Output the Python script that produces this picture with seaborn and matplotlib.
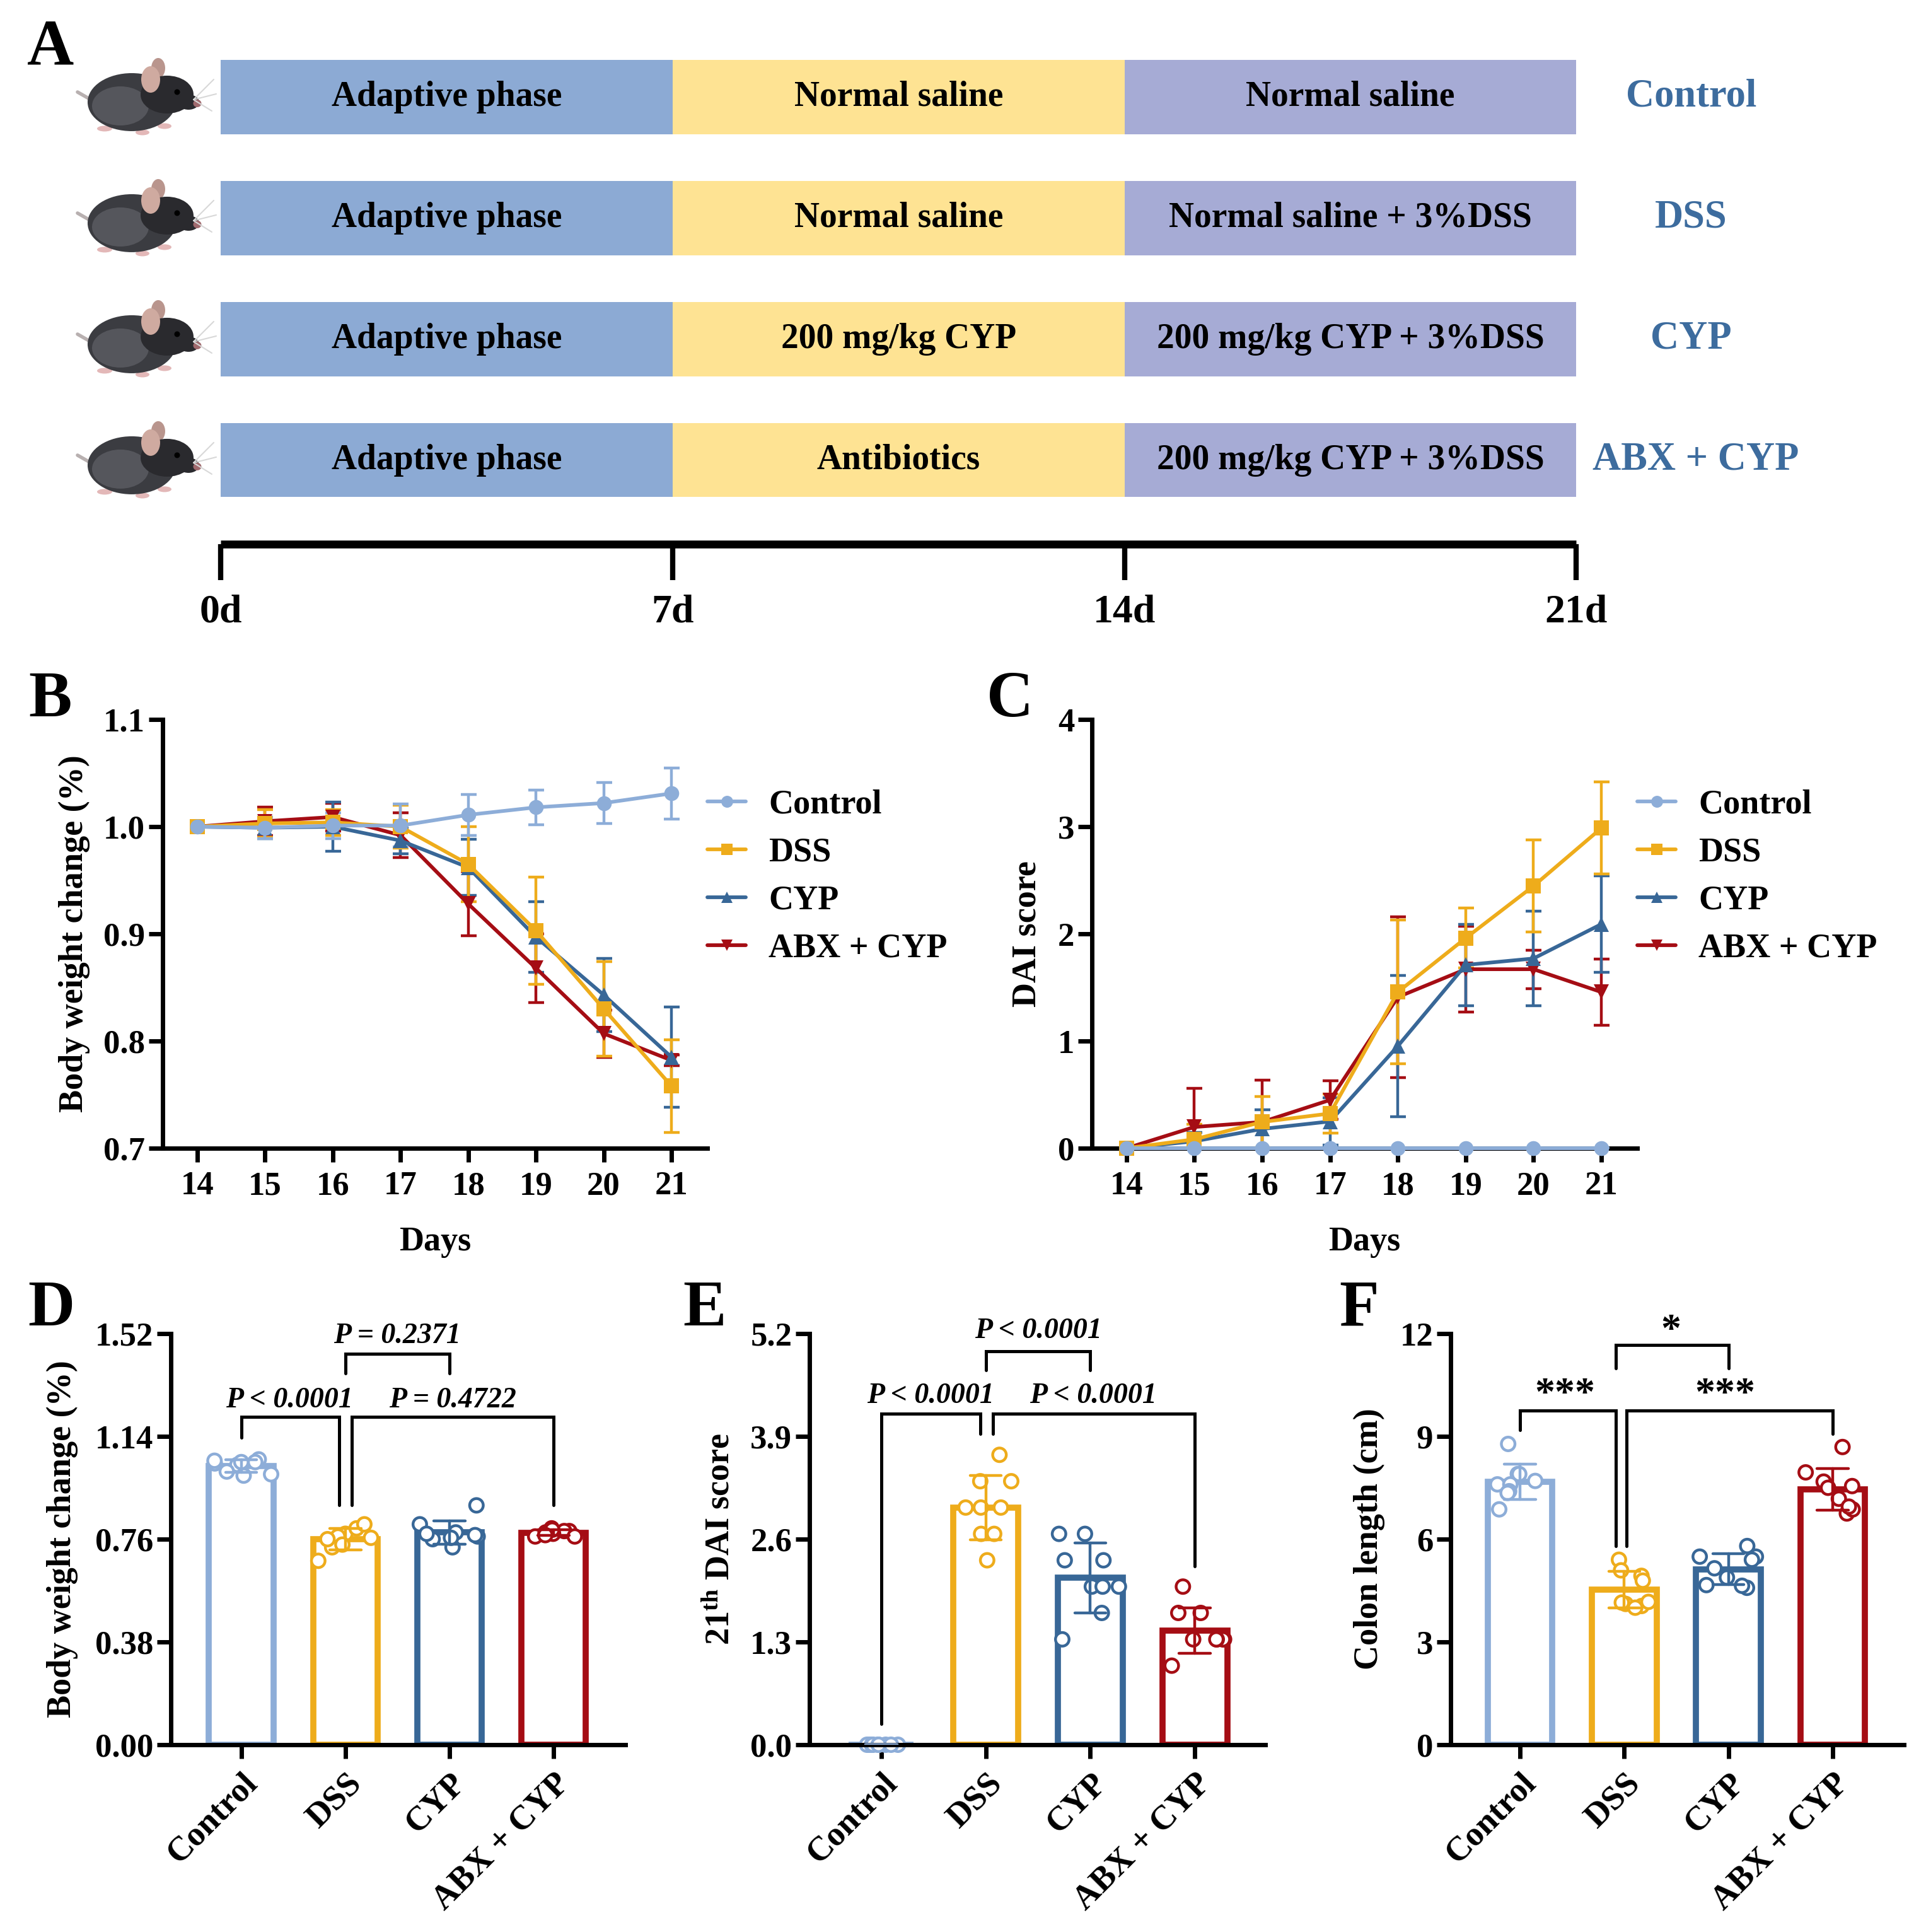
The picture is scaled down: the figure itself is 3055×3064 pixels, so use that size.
import numpy as np
import pandas as pd
import matplotlib
matplotlib.use('Agg')
import matplotlib.pyplot as plt
from matplotlib.patches import Ellipse
import seaborn as sns

# ---------------- data ----------------
groups = ['Control', 'DSS', 'CYP', 'ABX + CYP']
group_colors = ['#8DADD8', '#EEAC1B', '#386797', '#A50D14']
line_markers = ['o', 's', '^', 'v']

# panel A: experimental design
phase_bounds = [0, 7, 14, 21]
phase_colors = ['#8CAAD4', '#FEE393', '#A6ABD5']
phase1_text = ['Adaptive phase', 'Adaptive phase', 'Adaptive phase', 'Adaptive phase']
phase2_text = ['Normal saline', 'Normal saline', '200 mg/kg CYP', 'Antibiotics']
phase3_text = ['Normal saline', 'Normal saline + 3%DSS',
               '200 mg/kg CYP + 3%DSS', '200 mg/kg CYP + 3%DSS']
timeline_days = [0, 7, 14, 21]
timeline_labels = ['0d', '7d', '14d', '21d']

# panel B / C: days 14-21, mean and SD
days = [14, 15, 16, 17, 18, 19, 20, 21]

bw_mean = {
    'Control':   [1.000, 0.999, 1.001, 1.001, 1.011, 1.018, 1.022, 1.031],
    'DSS':       [1.000, 1.003, 1.004, 1.000, 0.965, 0.903, 0.830, 0.758],
    'CYP':       [1.000, 0.999, 1.000, 0.987, 0.962, 0.897, 0.843, 0.785],
    'ABX + CYP': [1.000, 1.005, 1.009, 0.992, 0.928, 0.868, 0.807, 0.782],
}
bw_sd = {
    'Control':   [0, 0.010, 0.012, 0.020, 0.019, 0.016, 0.019, 0.024],
    'DSS':       [0, 0.013, 0.012, 0.020, 0.035, 0.050, 0.044, 0.043],
    'CYP':       [0, 0.010, 0.023, 0.012, 0.026, 0.033, 0.034, 0.047],
    'ABX + CYP': [0, 0.013, 0.013, 0.021, 0.030, 0.032, 0.022, 0.005],
}
dai_mean = {
    'Control':   [0, 0, 0, 0, 0, 0, 0, 0],
    'DSS':       [0, 0.083, 0.245, 0.324, 1.457, 1.960, 2.446, 2.986],
    'CYP':       [0, 0.065, 0.180, 0.250, 0.953, 1.710, 1.770, 2.090],
    'ABX + CYP': [0, 0.198, 0.245, 0.450, 1.410, 1.670, 1.670, 1.457],
}
dai_sd = {
    'Control':   [0, 0, 0, 0, 0, 0, 0, 0],
    'DSS':       [0, 0.14, 0.24, 0.18, 0.67, 0.28, 0.43, 0.43],
    'CYP':       [0, 0.08, 0.18, 0.22, 0.66, 0.38, 0.44, 0.45],
    'ABX + CYP': [0, 0.36, 0.39, 0.18, 0.75, 0.40, 0.18, 0.31],
}

# panel D: body weight change on day 21 (individual mice)
bw21_control = [1.040, 1.055, 1.035, 1.045, 1.000, 0.995, 1.045, 1.050, 1.010]
bw21_dss = [0.780, 0.800, 0.815, 0.770, 0.680, 0.730, 0.765, 0.760, 0.740]
bw21_cyp = [0.885, 0.815, 0.785, 0.770, 0.760, 0.730, 0.775, 0.780, 0.765]
bw21_abx = [0.790, 0.790, 0.800, 0.770, 0.780, 0.785, 0.795, 0.775, 0.770]

# panel E: DAI score on day 21
dai21_control = [0, 0, 0, 0, 0, 0, 0, 0, 0]
dai21_dss = [3.667, 3.333, 3.333, 3.0, 3.0, 3.0, 2.667, 2.667, 2.333]
dai21_cyp = [2.667, 2.667, 2.333, 2.333, 2.0, 2.0, 2.0, 1.667, 1.333]
dai21_abx = [2.0, 1.667, 1.667, 1.333, 1.333, 1.333, 1.333, 1.333, 1.0]

# panel F: colon length (cm)
colon_control = [8.78, 7.90, 7.70, 7.90, 7.60, 7.60, 7.40, 7.35, 6.87]
colon_dss = [5.40, 5.09, 4.93, 4.79, 4.11, 4.15, 4.05, 4.17, 4.00]
colon_cyp = [5.80, 5.49, 5.49, 5.40, 5.15, 4.88, 4.58, 4.64, 4.66]
colon_abx = [8.69, 7.95, 7.68, 7.55, 7.50, 7.18, 6.75, 6.87, 6.95]

# ---------------- style ----------------
sns.set_theme(style='ticks', rc={'axes.edgecolor': 'black', 'xtick.color': 'black',
                                  'ytick.color': 'black', 'text.color': 'black',
                                  'axes.labelcolor': 'black'})
plt.rcParams['font.family'] = ['Liberation Serif', 'DejaVu Serif']
plt.rcParams['font.weight'] = 'bold'
plt.rcParams['axes.labelweight'] = 'bold'
plt.rcParams['mathtext.fontset'] = 'custom'
plt.rcParams['mathtext.rm'] = 'Liberation Serif:bold'
plt.rcParams['mathtext.bf'] = 'Liberation Serif:bold'
plt.rcParams['mathtext.it'] = 'Liberation Serif:bold:italic'

W, H = 3055, 3064
fig = plt.figure(figsize=(W / 100, H / 100), dpi=100)


def px_axes(left, top, right, bottom):
    return fig.add_axes([left / W, 1 - bottom / H, (right - left) / W, (bottom - top) / H])


def style_axes(ax):
    for s in ['top', 'right']:
        ax.spines[s].set_visible(False)
    for s in ['left', 'bottom']:
        ax.spines[s].set_linewidth(5)
    ax.tick_params(axis='both', direction='out', length=16, width=5, labelsize=38)
    ax.tick_params(axis='y', pad=4)
    ax.tick_params(axis='x', pad=10)


# ---------------- panel A ----------------
PX_DAY = 102.4
X0 = 350
axA = px_axes(0, 0, W, 1040)
axA.set_xlim(-X0 / PX_DAY, (W - X0) / PX_DAY)
axA.set_ylim(4.615, -0.802)
axA.axis('off')

rows = np.arange(len(groups))
phase_texts = [phase1_text, phase2_text, phase3_text]
for j in range(3):
    axA.barh(rows, phase_bounds[j + 1] - phase_bounds[j], left=phase_bounds[j],
             height=0.61, color=phase_colors[j], edgecolor='none')
    mid = (phase_bounds[j] + phase_bounds[j + 1]) / 2
    for r in rows:
        axA.text(mid, r, phase_texts[j][r], ha='center', va='center', fontsize=40,
                 fontweight='bold')
for r, g in zip(rows, groups):
    axA.text(22.85 if r == 3 else 22.78, r, g, ha='center', va='center', fontsize=45,
             fontweight='bold', color='#3D6C9E')

# timeline
axA.plot([timeline_days[0], timeline_days[-1]], [3.693, 3.693], color='black', lw=9,
         solid_capstyle='butt')
for d, lab in zip(timeline_days, timeline_labels):
    axA.plot([d, d], [3.693, 3.99], color='black', lw=6, solid_capstyle='butt')
    axA.text(d, 4.26, lab, ha='center', va='center', fontsize=46, fontweight='bold')


def draw_mouse(ax, cx, cy):
    sx, sy = 1 / PX_DAY, 1 / 192

    def ell(dx, dy, w, h, c, z=3):
        ax.add_patch(Ellipse((cx + dx * sx, cy + dy * sy), w * sx, h * sy,
                             facecolor=c, edgecolor='none', zorder=z))

    ax.plot([cx - 70 * sx, cx - 98 * sx], [cy + 8 * sy, cy - 8 * sy], color='#b8b0b0',
            lw=4, zorder=2, solid_capstyle='round')
    ell(-12, 8, 140, 92, '#3b3c41')
    ell(-30, 14, 90, 62, '#55565c')
    ell(44, -4, 84, 60, '#2a2a2e', 4)
    ell(78, 8, 34, 24, '#2a2a2e', 4)
    ell(92, 10, 13, 12, '#a06a6e', 5)
    ell(30, -46, 22, 32, '#b9958d', 3)
    ell(18, -28, 30, 42, '#cfaaa0', 5)
    ell(60, -8, 9, 9, 'black', 5)
    ell(-55, 50, 24, 9, '#e3b8b8', 2)
    ell(40, 46, 22, 9, '#e3b8b8', 2)
    ell(5, 56, 22, 9, '#e3b8b8', 2)
    for ex, ey in [(118, -28), (122, -5), (115, 22)]:
        ax.plot([cx + 86 * sx, cx + ex * sx], [cy + 4 * sy, cy + ey * sy],
                color='#d8d8d8', lw=1.5, zorder=6)


for r in rows:
    draw_mouse(axA, -1.26, r)

# ---------------- panels B and C ----------------
axB = px_axes(258, 1141, 1122, 1821)
axC = px_axes(1732, 1141, 2597, 1821)

for ax, means, sds, ylim, yticks, ylab, labx in [
        (axB, bw_mean, bw_sd, (0.7, 1.1), [0.7, 0.8, 0.9, 1.0, 1.1],
         'Body weight change (%)', -0.133),
        (axC, dai_mean, dai_sd, (0, 4), [0, 1, 2, 3, 4], 'DAI score', -0.090)]:
    for i in reversed(range(len(groups))):
        g = groups[i]
        ax.errorbar(days, means[g], yerr=sds[g], fmt='none', ecolor=group_colors[i],
                    elinewidth=3.2, capsize=9, capthick=3.2, zorder=2.8)
        sns.lineplot(x=days, y=means[g], color=group_colors[i], marker=line_markers[i],
                     markersize=17, markeredgewidth=0, linewidth=4.2, label=g, ax=ax,
                     zorder=3, clip_on=False)
    style_axes(ax)
    ax.set_xlim(13.49, 21.53)
    ax.set_ylim(*ylim)
    ax.set_xticks(days)
    ax.set_yticks(yticks)
    if ylim[1] < 2:
        ax.set_yticklabels([f'{t:.1f}' for t in yticks])
    ax.set_xlabel('Days', fontsize=39, fontweight='bold')
    ax.set_ylabel(ylab, fontsize=39, fontweight='bold')
    ax.xaxis.set_label_coords(0.5, -0.182)
    ax.yaxis.set_label_coords(labx, 0.5)
    handles, labels = ax.get_legend_handles_labels()
    order = [labels.index(g) for g in groups]
    ax.legend([handles[k] for k in order], [labels[k] for k in order],
              loc='upper left', bbox_to_anchor=(1.0, 0.837), frameon=False,
              prop={'size': 39, 'weight': 'bold'}, handlelength=1.13, markerscale=0.8,
              handletextpad=0.66, labelspacing=0.48, borderaxespad=0, borderpad=0)

# ---------------- panels D, E, F ----------------
axD = px_axes(271, 2115, 992, 2767)
axE = px_axes(1284, 2115, 2007, 2767)
axF = px_axes(2301, 2115, 3020, 2767)

bar_sets = [
    (axD, [bw21_control, bw21_dss, bw21_cyp, bw21_abx], (0, 1.52),
     [0, 0.38, 0.76, 1.14, 1.52], '{:.2f}', 'Body weight change (%)', -0.204,
     (-0.676, 3.689)),
    (axE, [dai21_control, dai21_dss, dai21_cyp, dai21_abx], (0, 5.2),
     [0, 1.3, 2.6, 3.9, 5.2], '{:.1f}', r'21$^{\mathbf{th}}$ DAI score', -0.160,
     (-0.685, 3.673)),
    (axF, [colon_control, colon_dss, colon_cyp, colon_abx], (0, 12),
     [0, 3, 6, 9, 12], '{:.0f}', 'Colon length (cm)', -0.144, (-0.667, 3.685)),
]

np.random.seed(7)
for ax, vals, ylim, yticks, fmt, ylab, labx, xlim in bar_sets:
    df = pd.DataFrame({'group': np.repeat(groups, [len(v) for v in vals]),
                       'value': np.concatenate(vals)})
    sns.barplot(data=df, x='group', y='value', hue='group', order=groups,
                hue_order=groups, palette=group_colors, fill=False, width=0.62,
                linewidth=7, errorbar='sd', capsize=0.3,
                err_kws={'linewidth': 3.2, 'zorder': 3.2}, legend=False, ax=ax)
    n_before = len(ax.collections)
    sns.stripplot(data=df, x='group', y='value', hue='group', order=groups,
                  hue_order=groups, palette=group_colors, jitter=0.3, size=15.5,
                  legend=False, ax=ax)
    for coll in ax.collections[n_before:]:
        fc = coll.get_facecolor()
        coll.set_edgecolor(fc)
        coll.set_facecolor('white')
        coll.set_linewidth(3.2)
        coll.set_clip_on(False)
        coll.set_zorder(2.4)
    style_axes(ax)
    ax.set_xlim(*xlim)
    ax.set_ylim(*ylim)
    ax.set_yticks(yticks)
    ax.set_yticklabels([fmt.format(t) for t in yticks])
    ax.set_xticks(range(4))
    ax.set_xticklabels(groups, rotation=45, ha='right', va='top', rotation_mode='anchor',
                       fontsize=39)
    ax.set_xlabel('')
    ax.set_ylabel(ylab, fontsize=39, fontweight='bold')
    ax.yaxis.set_label_coords(labx, 0.5)


def bracket(ax, x1, x2, ytop, y1, y2):
    ax.plot([x1, x1, x2, x2], [y1, ytop, ytop, y2], color='black', lw=3.6,
            solid_joinstyle='miter', clip_on=False, zorder=5)


def ptext(ax, x, y, s, size=33, style='italic'):
    ax.text(x, y, s, ha='center', va='center', fontsize=size, fontweight='bold',
            fontstyle=style, clip_on=False)


# D
bracket(axD, 0, 0.94, 1.212, 1.135, 0.886)
bracket(axD, 1.06, 3, 1.212, 0.886, 0.886)
bracket(axD, 1, 2, 1.445, 1.372, 1.372)
ptext(axD, 0.46, 1.274, 'P < 0.0001')
ptext(axD, 2.03, 1.274, 'P = 0.4722')
ptext(axD, 1.5, 1.51, 'P = 0.2371')
# E
bracket(axE, 0, 0.95, 4.184, 0.266, 3.93)
bracket(axE, 1.07, 3, 4.184, 3.93, 2.26)
bracket(axE, 1, 2, 4.98, 4.74, 4.74)
ptext(axE, 0.47, 4.41, 'P < 0.0001')
ptext(axE, 2.03, 4.41, 'P < 0.0001')
ptext(axE, 1.5, 5.23, 'P < 0.0001')
# F
bracket(axF, 0, 0.92, 9.75, 9.18, 5.80)
bracket(axF, 1.02, 3, 9.75, 5.80, 9.08)
bracket(axF, 0.92, 2, 11.66, 10.99, 10.99)
ptext(axF, 0.43, 10.2, '***', size=46, style='normal')
ptext(axF, 1.97, 10.2, '***', size=46, style='normal')
ptext(axF, 1.445, 12.05, '*', size=46, style='normal')

# panel letters
for lab, x, y in [('A', 43, 30), ('B', 45, 1064), ('C', 1565, 1064),
                  ('D', 44, 2030), ('E', 1083, 2030), ('F', 2124, 2030)]:
    fig.text(x / W, 1 - y / H, lab, ha='left', va='top', fontsize=74, fontweight='bold')

fig.savefig('out.png', dpi=100)
